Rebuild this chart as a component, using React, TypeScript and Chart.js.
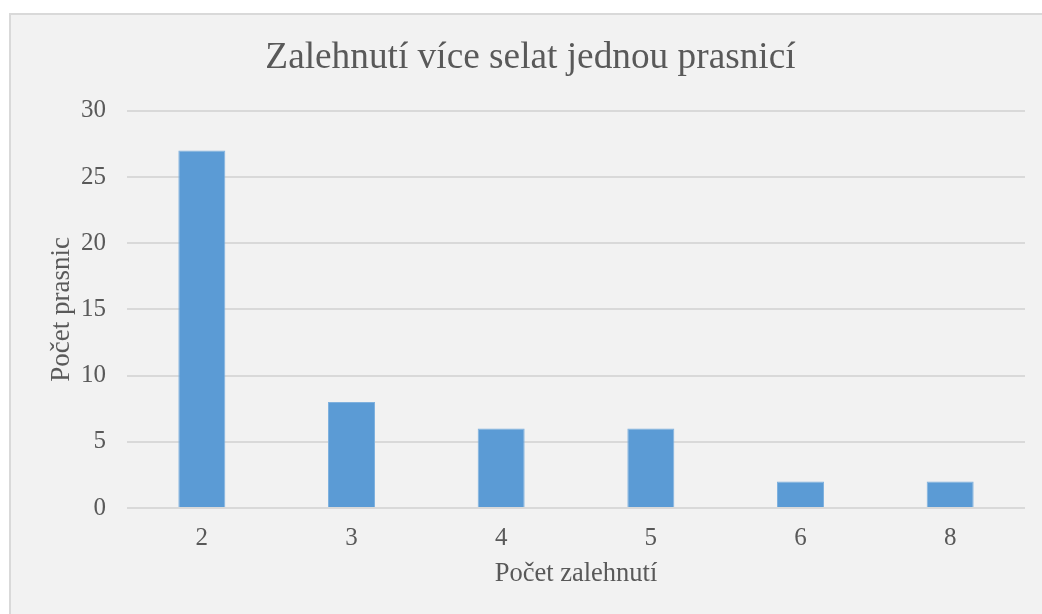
import React, { useEffect, useRef } from "react";
import { Chart, registerables } from "chart.js";

Chart.register(...registerables);

const chartTitle = "Zalehnutí více selat jednou prasnicí";
const xTitle = "Počet zalehnutí";
const yTitle = "Počet prasnic";
const categories = ["2", "3", "4", "5", "6", "8"];
const values = [27, 8, 6, 6, 2, 2];
const yMin = 0;
const yMax = 30;
const yStep = 5;

const FONT = "'Liberation Serif', 'Times New Roman', serif";
const TEXT = "#595959";
const GRID = "#d9d9d9";
const BAR = "#5b9bd5";

export default function App() {
  const ref = useRef<HTMLCanvasElement>(null);

  useEffect(() => {
    if (!ref.current) return;
    const chart = new Chart(ref.current, {
      type: "bar",
      data: {
        labels: categories,
        datasets: [
          {
            label: yTitle,
            data: values,
            backgroundColor: BAR,
            borderColor: "#7fb1de",
            borderWidth: 1,
            barPercentage: 0.314,
            categoryPercentage: 1,
          },
        ],
      },
      options: {
        animation: false,
        responsive: false,
        maintainAspectRatio: false,
        layout: { padding: { left: 36, right: 17, top: 0, bottom: 24 } },
        plugins: {
          legend: { display: false },
          tooltip: { enabled: false },
          title: {
            display: true,
            text: chartTitle,
            color: TEXT,
            font: { family: FONT, size: 37.3, weight: "normal" },
            padding: { top: 36, bottom: 30 },
          },
        },
        scales: {
          x: {
            grid: { display: false, drawTicks: false },
            border: { display: false },
            ticks: {
              color: TEXT,
              font: { family: FONT, size: 25 },
              padding: 15,
            },
            title: {
              display: true,
              text: xTitle,
              color: TEXT,
              font: { family: FONT, size: 26.5 },
              padding: { top: 0, bottom: 0 },
            },
            afterFit: (s: any) => {
              s.height = 82;
            },
          },
          y: {
            min: yMin,
            max: yMax,
            grid: { color: GRID, lineWidth: 2, drawTicks: false },
            border: { display: false },
            ticks: {
              stepSize: yStep,
              color: TEXT,
              font: { family: FONT, size: 25 },
              padding: 21,
            },
            title: {
              display: true,
              text: yTitle,
              color: TEXT,
              font: { family: FONT, size: 27 },
              padding: { top: 10, bottom: 0 },
            },
            afterFit: (s: any) => {
              s.width = 91;
            },
          },
        },
      },
    });
    return () => chart.destroy();
  }, []);

  return (
    <div style={{ position: "fixed", left: 0, top: 0, width: 1042, height: 614, background: "#ffffff", overflow: "hidden" }}>
      <div
        style={{
          position: "absolute",
          left: 9,
          top: 13,
          width: 1100,
          height: 700,
          background: "#f2f2f2",
          border: "2px solid #d9d9d9",
        }}
      />
      <canvas ref={ref} width={1042} height={614} style={{ position: "absolute", left: 0, top: 0, width: 1042, height: 614 }} />
    </div>
  );
}
